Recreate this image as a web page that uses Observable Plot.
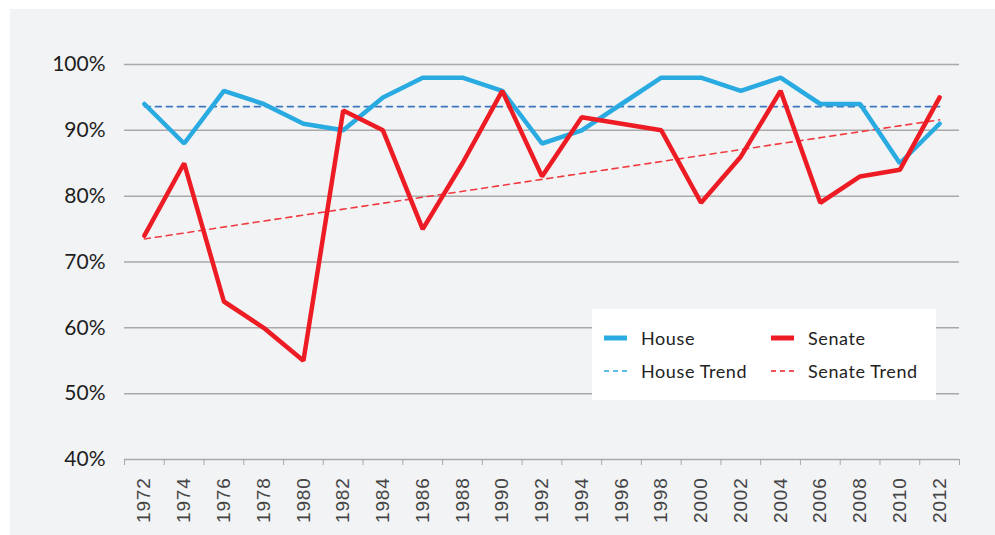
<!DOCTYPE html>
<html>
<head>
<meta charset="utf-8">
<script src="https://cdn.jsdelivr.net/npm/d3@7"></script>
<script src="https://cdn.jsdelivr.net/npm/@observablehq/plot@0.6"></script>
<style>
  html, body { margin: 0; padding: 0; background: #ffffff; }
  #wrap { position: relative; width: 995px; height: 535px; overflow: hidden; }
  #panel { position: absolute; left: 10px; top: 9px; width: 985px; height: 526px; background: #f2f3f5; }
  #chart { position: absolute; left: 0; top: 0; }
  #legend { position: absolute; left: 592px; top: 309px; width: 344px; height: 91px; background: #ffffff;
            font-family: Lato, "Noto Sans", sans-serif; font-size: 18px; color: #222; letter-spacing: 0.6px; }
  .item { position: absolute; display: flex; align-items: center; height: 24px; }
  .item svg { margin-right: 14px; }
</style>
</head>
<body>
<div id="wrap">
  <div id="panel"></div>
  <div id="chart"></div>
  <div id="legend"></div>
</div>
<script>
// ---- data ----
const years = [1972,1974,1976,1978,1980,1982,1984,1986,1988,1990,1992,1994,1996,1998,2000,2002,2004,2006,2008,2010,2012];
const house = [94,88,96,94,91,90,95,98,98,96,88,90,94,98,98,96,98,94,94,85,91];
const senate = [74,85,64,60,55,93,90,75,85,96,83,92,91,90,79,86,96,79,83,84,95];
const trendYears = [1972, 2012];
const houseTrend = [93.6, 93.6];
const senateTrend = [73.5, 91.6];
const yTicks = [40,50,60,70,80,90,100];
const tickBounds = [1971,1973,1975,1977,1979,1981,1983,1985,1987,1989,1991,1993,1995,1997,1999,2001,2003,2005,2007,2009,2011,2013];
const legendItems = [
  {label: "House", color: "#29abe2", dashed: false},
  {label: "Senate", color: "#ed1c24", dashed: false},
  {label: "House Trend", color: "#29abe2", dashed: true},
  {label: "Senate Trend", color: "#ed1c24", dashed: true}
];

const houseRows = years.map((year, i) => ({year, value: house[i]}));
const senateRows = years.map((year, i) => ({year, value: senate[i]}));
const houseTrendRows = trendYears.map((year, i) => ({year, value: houseTrend[i]}));
const senateTrendRows = trendYears.map((year, i) => ({year, value: senateTrend[i]}));

const chart = Plot.plot({
  width: 995,
  height: 535,
  marginLeft: 124,
  marginRight: 36,
  marginTop: 64,
  marginBottom: 76,
  style: {background: "transparent", overflow: "visible"},
  x: {type: "linear", domain: [1971, 2013]},
  y: {domain: [40, 100]},
  marks: [
    Plot.ruleY(yTicks, {stroke: "#a9a9a9", strokeWidth: 1.5, strokeOpacity: 1}),
    Plot.axisY({ticks: yTicks, tickSize: 0, tickPadding: 19, tickFormat: d => d + "%",
      fontSize: 21, fontFamily: "Lato, 'Noto Sans', sans-serif", fill: "#1e1e1e", label: null}),
    Plot.axisX({ticks: tickBounds, tickSize: 6, tickFormat: () => "", stroke: "#a9a9a9", label: null}),
    Plot.axisX({ticks: years, tickSize: 0, tickPadding: 18, tickRotate: -90, tickFormat: d => String(d),
      fontSize: 19, fontFamily: "'Liberation Sans', Arial, sans-serif", fill: "#444", label: null}),
    Plot.line(houseTrendRows, {x: "year", y: "value", stroke: "#3b78be", strokeWidth: 1.6, strokeDasharray: "6,5"}),
    Plot.line(senateTrendRows, {x: "year", y: "value", stroke: "#ef3b40", strokeWidth: 1.6, strokeDasharray: "6,5"}),
    Plot.line(houseRows, {x: "year", y: "value", stroke: "#29abe2", strokeWidth: 4.5, strokeLinejoin: "miter", strokeLinecap: "round"}),
    Plot.line(senateRows, {x: "year", y: "value", stroke: "#ed1c24", strokeWidth: 4.5, strokeLinejoin: "miter", strokeLinecap: "round"})
  ]
});
chart.querySelectorAll("g[aria-label='x-axis tick label'] text").forEach(t => { t.style.letterSpacing = "0.8px"; });
document.getElementById("chart").appendChild(chart);

// ---- legend ----
const legend = document.getElementById("legend");
const pos = [[12, 17], [179, 17], [12, 50], [179, 50]];
legendItems.forEach((d, i) => {
  const div = document.createElement("div");
  div.className = "item";
  div.style.left = pos[i][0] + "px";
  div.style.top = pos[i][1] + "px";
  const sw = d.dashed
    ? `<svg width="23" height="10"><line x1="0" y1="5" x2="23" y2="5" stroke="${d.color}" stroke-width="1.6" stroke-dasharray="5,4"/></svg>`
    : `<svg width="23" height="10"><line x1="0" y1="5" x2="23" y2="5" stroke="${d.color}" stroke-width="5"/></svg>`;
  div.innerHTML = sw + `<span>${d.label}</span>`;
  legend.appendChild(div);
});
</script>
</body>
</html>
